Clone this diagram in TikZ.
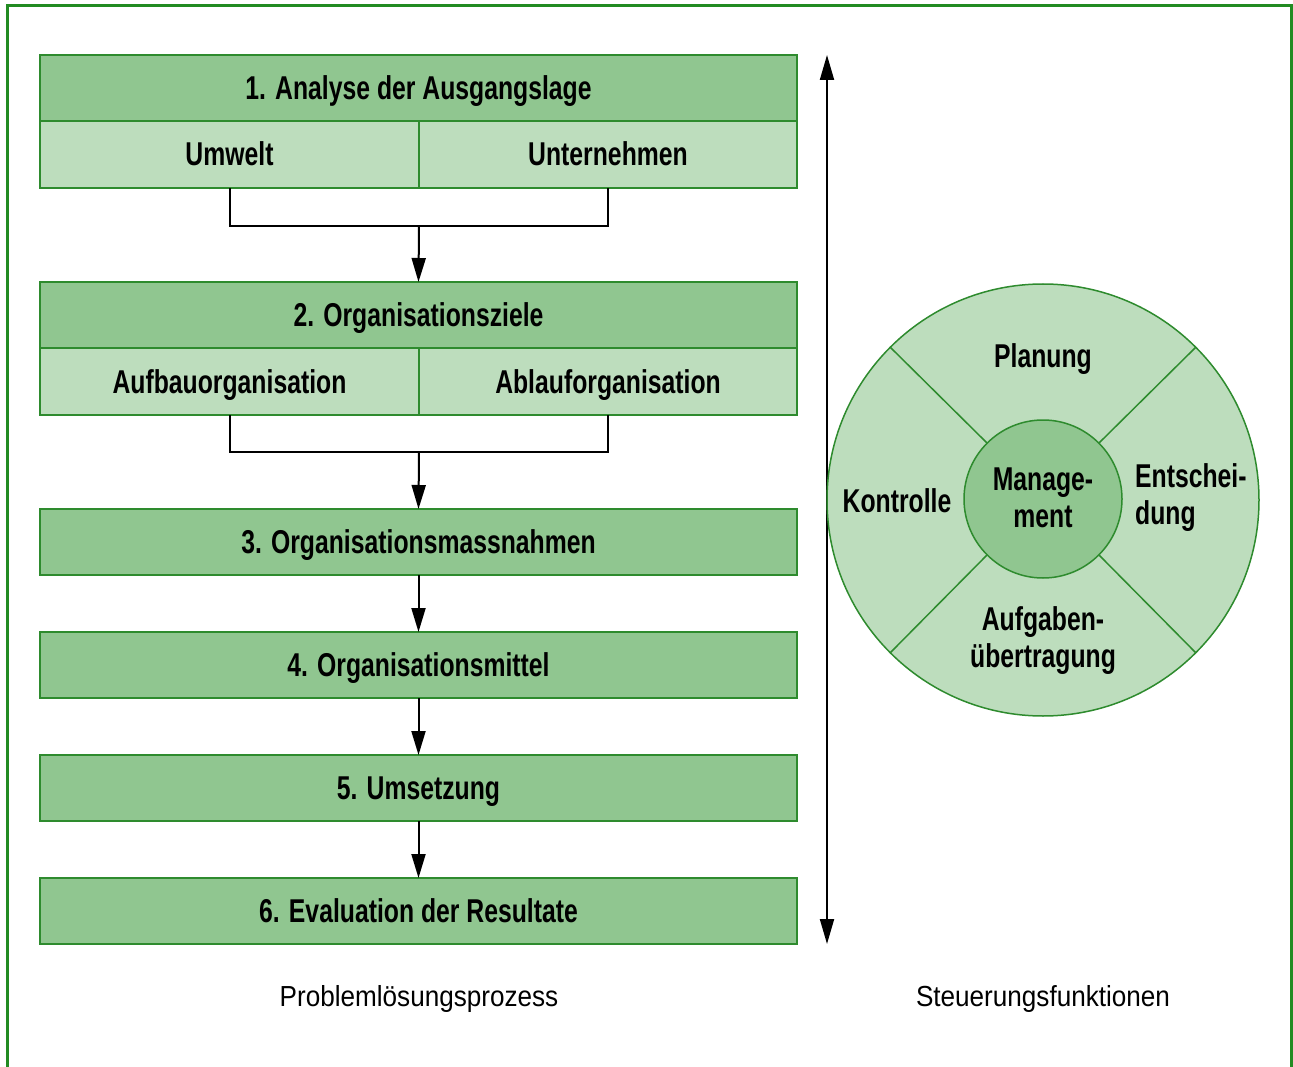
\documentclass[tikz,border=0pt]{standalone}
\usepackage{fontspec}
\usetikzlibrary{arrows.meta}
\newfontfamily\cond[FakeStretch=0.75]{Liberation Sans}
\newfontfamily\condlight[FakeStretch=0.9]{Liberation Sans}
\definecolor{hdgreen}{HTML}{90C690}
\definecolor{ltgreen}{HTML}{BDDDBD}
\definecolor{edgegreen}{HTML}{2E8B2E}
\definecolor{framegreen}{HTML}{228B22}
\begin{document}
\begin{tikzpicture}[x=1pt,y=-1pt,
  cell/.style={draw=edgegreen, line width=2pt, rectangle, inner sep=0pt, outer sep=0pt,
    font=\cond\bfseries\fontsize{33}{37}\selectfont, text=black,
    text height=30pt, text depth=7pt},
  head/.style={cell, fill=hdgreen, minimum width=757pt, minimum height=66pt},
  half/.style={cell, fill=ltgreen, minimum height=67pt},
  conn/.style={line width=2pt, draw=black},
  tip/.style={-{Triangle[length=24pt,width=14pt]}},
  ctext/.style={font=\cond\bfseries\fontsize{33}{37}\selectfont, align=center, inner sep=0pt},
  caption/.style={font=\condlight\fontsize{29}{32}\selectfont, inner sep=0pt}
]
\useasboundingbox (0,0) rectangle (1293,1067);

% frame, open at the bottom
\draw[framegreen, line width=3pt] (7,1067) -- (7,5.5) -- (1291.5,5.5) -- (1291.5,1067);

% step 1
\node[head] (h1) at (418.5,88) {1. Analyse der Ausgangslage};
\node[half, minimum width=379pt] (u1a) at (229.5,154.5) {Umwelt};
\node[half, minimum width=378pt] (u1b) at (608,154.5) {Unternehmen};

% step 2
\node[head] (h2) at (418.5,315) {2. Organisationsziele};
\node[half, minimum width=379pt] (u2a) at (229.5,381.5) {Aufbauorganisation};
\node[half, minimum width=378pt] (u2b) at (608,381.5) {Ablauforganisation};

% steps 3 to 6
\node[head] (h3) at (418.5,542) {3. Organisationsmassnahmen};
\node[head] (h4) at (418.5,665) {4. Organisationsmittel};
\node[head] (h5) at (418.5,788) {5. Umsetzung};
\node[head] (h6) at (418.5,911) {6. Evaluation der Resultate};

% brackets joining the two halves
\coordinate (j1) at (419,226);
\coordinate (j2) at (419,452);
\draw[conn] (u1a.south) |- (j1) -| (u1b.south);
\draw[conn] (u2a.south) |- (j2) -| (u2b.south);
\draw[conn, tip] (j1) -- (h2.north);
\draw[conn, tip] (j2) -- (h3.north);
\draw[conn, tip] (h3) -- (h4);
\draw[conn, tip] (h4) -- (h5);
\draw[conn, tip] (h5) -- (h6);

% double arrow along the process
\coordinate (at) at (827,55);
\coordinate (ab) at (827,944);
\draw[conn, {Triangle[length=25pt,width=14pt]}-{Triangle[length=25pt,width=14pt]}] (at) -- (ab);

% management wheel
\node[circle, draw=edgegreen, line width=1.5pt, fill=ltgreen, minimum size=432pt,
  inner sep=0pt, outer sep=0pt] (outer) at (1043,500) {};
\node[circle, draw=edgegreen, line width=1.5pt, fill=hdgreen, minimum size=158pt,
  inner sep=0pt, outer sep=0pt] (inner) at (1043,499) {};
\foreach \a in {45,135,225,315}
  \draw[edgegreen, line width=1.5pt] (inner.\a) -- (outer.\a);

\node[ctext] (pl) at (1043,359) {Planung};
\node[ctext] (ko) at (897,501) {Kontrolle};
\node[ctext, align=left, anchor=west] (en) at (1135,498) {Entschei-\\dung};
\node[ctext] (ma) at (1043,498) {Manage-\\ment};
\node[ctext] (au) at (1043,641) {Aufgaben-\\übertragung};

% captions
\node[caption] (c1) at (419,999) {Problemlösungsprozess};
\node[caption] (c2) at (1043,999) {Steuerungsfunktionen};
\end{tikzpicture}
\end{document}
